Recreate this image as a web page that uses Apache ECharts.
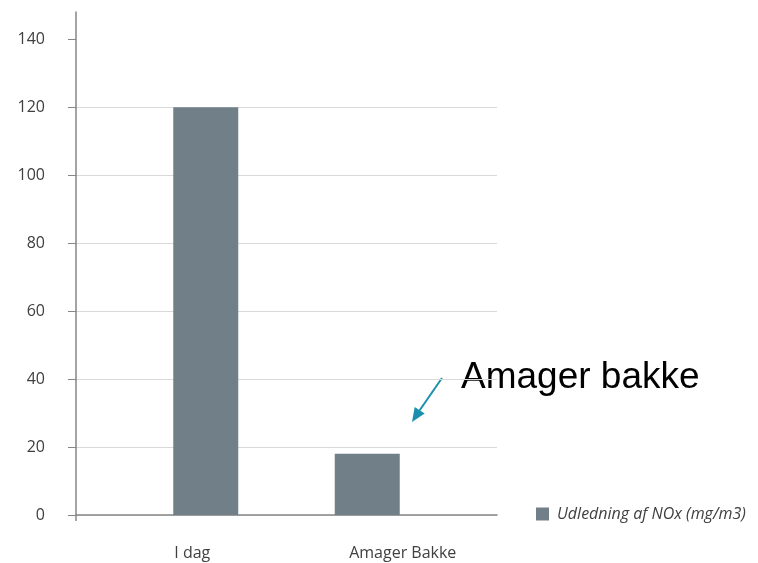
<!DOCTYPE html>
<html>
<head>
<meta charset="utf-8">
<style>
  html, body { margin: 0; padding: 0; background: #fff; }
  #chart { width: 758px; height: 563px; }
</style>
<script src="https://cdn.jsdelivr.net/npm/echarts@6/dist/echarts.min.js"></script>
</head>
<body>
<div id="chart"></div>
<script>
const categories = ['I dag', 'Amager Bakke'];
const noxValues = [120, 18];
const seriesName = 'Udledning af NOx (mg/m3)';
const yTicks = [0, 20, 40, 60, 80, 100, 120, 140];
const noteText = 'Amager bakke';

const chart = echarts.init(document.getElementById('chart'));

const option = {
  animation: false,
  backgroundColor: '#fff',
  grid: [
    // axes + gridlines
    { left: 76, right: 261, top: 12, bottom: 48 },
    // bars sit a bit inside the frame
    { left: 125, right: 310, top: 12, bottom: 48 }
  ],
  legend: {
    data: [seriesName],
    left: 531,
    top: 501,
    itemWidth: 13,
    itemHeight: 13,
    icon: 'rect',
    textStyle: {
      fontFamily: 'Open Sans',
      fontStyle: 'italic',
      fontSize: 16,
      color: '#404040',
      padding: [0, 0, 0, 3]
    }
  },
  xAxis: [
    {
      type: 'category',
      gridIndex: 0,
      data: categories,
      axisLine: { show: true, lineStyle: { color: '#868686', width: 1.5 } },
      axisTick: { show: false },
      axisLabel: {
        margin: 30,
        fontFamily: 'Open Sans',
        fontSize: 16,
        color: '#404040',
        padding: [0, 0, 0, 22]
      },
      splitLine: { show: false }
    },
    {
      type: 'category',
      gridIndex: 1,
      data: categories,
      axisLine: { show: false },
      axisTick: { show: false },
      axisLabel: { show: false }
    },
    {
      // only the little tick under the y axis
      type: 'value',
      gridIndex: 0,
      position: 'bottom',
      min: 0,
      max: 1,
      axisLine: { show: false },
      axisTick: {
        show: true,
        length: 6,
        customValues: [0],
        lineStyle: { color: '#868686', width: 1.5 }
      },
      axisLabel: { show: false },
      splitLine: { show: false }
    }
  ],
  yAxis: [
    {
      type: 'value',
      gridIndex: 0,
      min: 0,
      max: 148,
      interval: 20,
      axisLine: { show: true, lineStyle: { color: '#868686', width: 1.5 } },
      axisTick: {
        show: true,
        length: 8,
        customValues: yTicks,
        lineStyle: { color: '#868686' }
      },
      axisLabel: {
        margin: 31,
        fontFamily: 'Open Sans',
        fontSize: 16,
        color: '#404040',
        customValues: yTicks
      },
      splitLine: { show: true, showMaxLine: false, lineStyle: { color: '#d9d9d9', width: 1 } }
    },
    {
      type: 'value',
      gridIndex: 1,
      min: 0,
      max: 148,
      show: false,
      splitLine: { show: false }
    }
  ],
  series: [
    {
      name: seriesName,
      type: 'bar',
      xAxisIndex: 1,
      yAxisIndex: 1,
      data: noxValues,
      barWidth: 65,
      itemStyle: { color: '#707f88' }
    }
  ],
  graphic: [
    {
      type: 'text',
      left: 461,
      top: 359,
      style: {
        text: noteText,
        fontFamily: 'Liberation Sans',
        fontSize: 37,
        fill: '#000'
      }
    },
    {
      type: 'line',
      shape: { x1: 442, y1: 378, x2: 419.7, y2: 410.3 },
      style: { stroke: '#1a8fae', lineWidth: 2 }
    },
    {
      type: 'polygon',
      shape: { points: [[412, 422], [424.7, 413.6], [414.7, 407]] },
      style: { fill: '#1a8fae' }
    }
  ]
};

chart.setOption(option);
</script>
</body>
</html>
